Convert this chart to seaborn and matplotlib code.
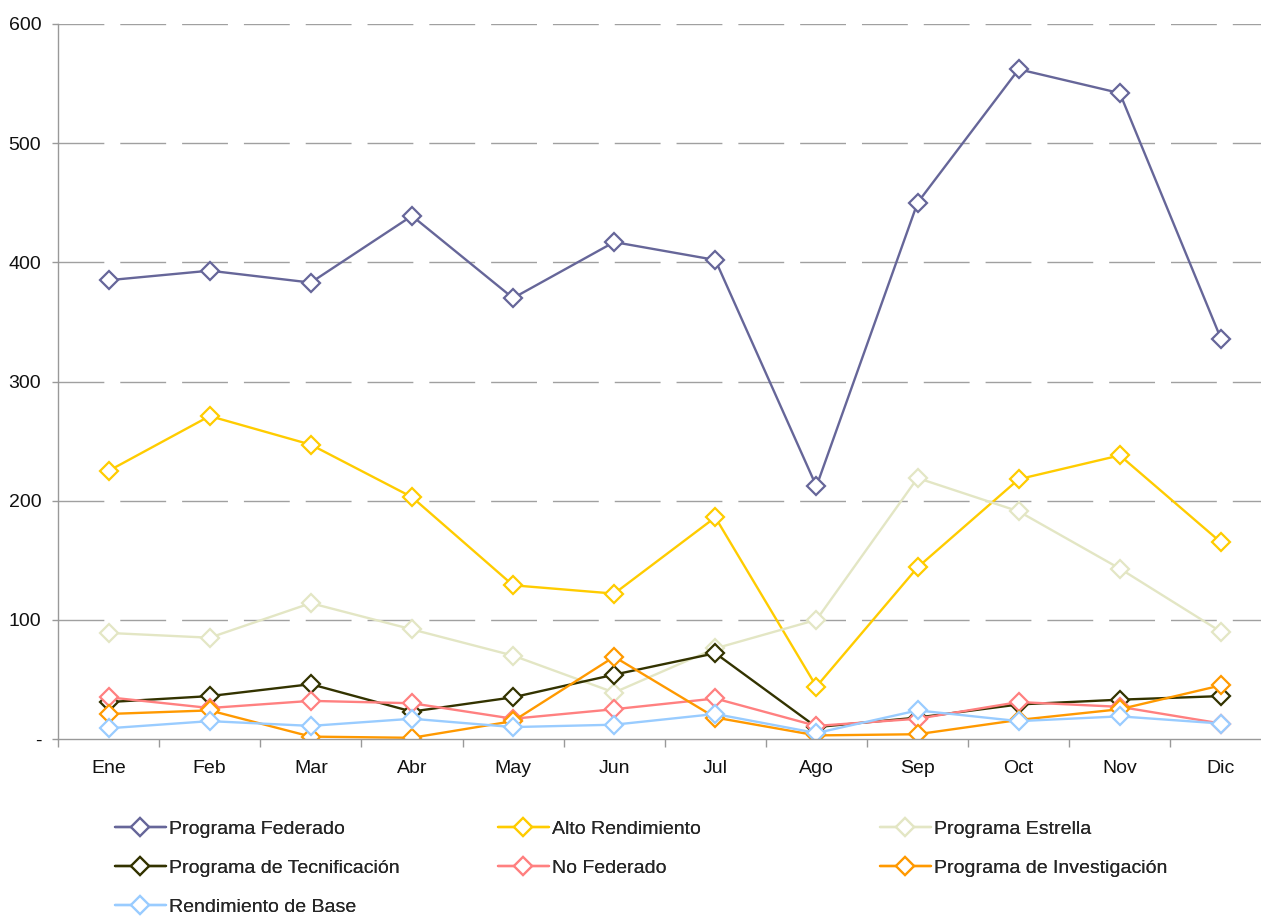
import matplotlib.pyplot as plt
import seaborn as sns
import pandas as pd

sns.set_theme(style="white")
plt.rcParams['font.family'] = ['Liberation Sans', 'DejaVu Sans']

meses = ['Ene', 'Feb', 'Mar', 'Abr', 'May', 'Jun', 'Jul', 'Ago', 'Sep', 'Oct', 'Nov', 'Dic']

programa_federado = [385, 393, 383, 439, 370, 417, 402, 212, 450, 562, 542, 336]
alto_rendimiento = [225, 271, 247, 203, 129, 122, 186, 44, 144, 218, 238, 165]
programa_estrella = [89, 85, 114, 92, 70, 39, 76, 100, 219, 191, 143, 90]
programa_tecnificacion = [31, 36, 46, 23, 35, 54, 72, 10, 18, 29, 33, 36]
no_federado = [35, 26, 32, 30, 17, 25, 34, 11, 17, 31, 27, 13]
programa_investigacion = [21, 24, 2, 1, 15, 69, 18, 3, 4, 16, 25, 45]
rendimiento_base = [9, 15, 11, 17, 10, 12, 21, 5, 24, 15, 19, 13]

series = [
    ('Programa Federado', programa_federado, '#666699'),
    ('Alto Rendimiento', alto_rendimiento, '#FFCC00'),
    ('Programa Estrella', programa_estrella, '#E3E6C4'),
    ('Programa de Tecnificación', programa_tecnificacion, '#333300'),
    ('No Federado', no_federado, '#FF8080'),
    ('Programa de Investigación', programa_investigacion, '#FF9900'),
    ('Rendimiento de Base', rendimiento_base, '#99CCFF'),
]

fig = plt.figure(figsize=(12.61, 9.16), dpi=100)
ax = fig.add_axes([58 / 1261, 1 - 739 / 916, (1271.5 - 58) / 1261, (739 - 24) / 916])

# horizontal dashed grid
for v in [100, 200, 300, 400, 500, 600]:
    ax.axhline(v, color='#A0A0A0', lw=1, ls=(0, (33, 11.5)), zorder=0)

handles = {}
for name, vals, col in series:
    df = pd.DataFrame({'Mes': meses, 'Valor': vals})
    sns.lineplot(data=df, x='Mes', y='Valor', ax=ax, color=col, lw=1.7,
                 marker='D', markersize=9.5, markerfacecolor='white',
                 markeredgecolor=col, markeredgewidth=1.6, label=name,
                 sort=False)
    handles[name] = ax.get_lines()[-1]

ax.get_legend().remove()

ax.set_xlim(-0.5, 11.5)
ax.set_ylim(0, 600)
ax.set_yticks([0, 100, 200, 300, 400, 500, 600])
ax.set_yticklabels(['-', '100', '200', '300', '400', '500', '600'])
ax.set_xticks(range(12))
ax.set_xticklabels(meses)
ax.set_xticks([i - 0.5 for i in range(13)], minor=True)
ax.tick_params(axis='x', which='major', length=0, pad=15, labelsize=14, labelcolor='#111111')
ax.tick_params(axis='x', which='minor', length=6, width=1, color='#999999', direction='out', bottom=True)
ax.tick_params(axis='y', length=4, width=1, color='#999999', direction='out', left=True,
               pad=8, labelsize=14, labelcolor='#111111')
ax.set_xlabel('')
ax.set_ylabel('')

sns.despine(ax=ax, top=True, right=True)
for s in ['left', 'bottom']:
    ax.spines[s].set_color('#999999')
    ax.spines[s].set_linewidth(1)

# legend: three fixed-width columns, filled row by row
columnas = [
    (['Programa Federado', 'Programa de Tecnificación', 'Rendimiento de Base'], 115),
    (['Alto Rendimiento', 'No Federado'], 498),
    (['Programa Estrella', 'Programa de Investigación'], 880),
]
for nombres, x0 in columnas:
    leg = fig.legend([handles[n] for n in nombres], nombres, loc='upper left',
                     bbox_to_anchor=(x0 / 1261, 1 - 820 / 916), frameon=False,
                     fontsize=14, handlelength=2.6, handletextpad=0.2,
                     labelspacing=1.1, borderpad=0, borderaxespad=0)
    fig.add_artist(leg)

fig.savefig('out.png', dpi=100)
